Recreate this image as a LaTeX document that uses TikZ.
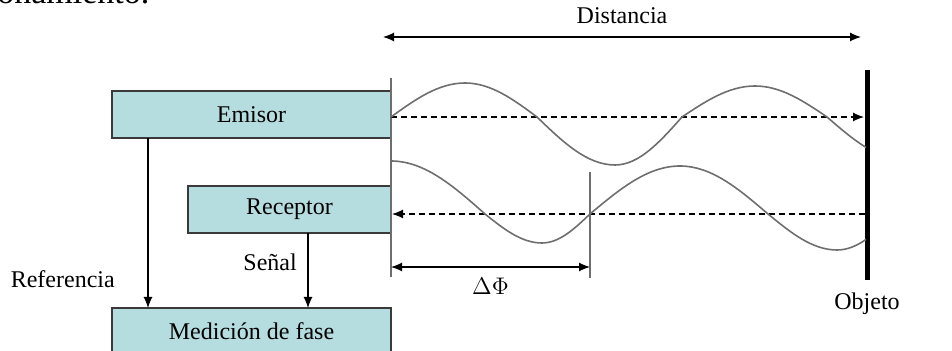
\documentclass[tikz,border=0pt]{standalone}
\usepackage{fontspec}
\setmainfont{Liberation Serif}
\usepackage{xcolor}
\definecolor{bloqueRelleno}{HTML}{B5DDE0}
\definecolor{bloqueBorde}{HTML}{3A3A3A}
\definecolor{ondaGris}{HTML}{6E6E6E}
\usetikzlibrary{arrows.meta}
\tikzset{
  bloque/.style={draw=bloqueBorde, fill=bloqueRelleno, line width=0.7pt, minimum height=23.5pt, inner sep=0pt, outer sep=0pt},
  flecha/.style={line width=0.6pt, -{Latex[length=5.5pt,width=4.5pt]}},
  flechas/.style={line width=0.6pt, {Latex[length=5.5pt,width=4.5pt]}-{Latex[length=5.5pt,width=4.5pt]}},
  onda/.style={draw=ondaGris, line width=0.8pt},
  rayo/.style={flecha, dash pattern=on 3pt off 2pt},
  texto/.style={font=\fontsize{12}{14}\selectfont}
}

\begin{document}
\begin{tikzpicture}[x=0.5pt, y=-0.5pt, texto]
  \useasboundingbox (0,0) rectangle (952,351);
  \node[anchor=base west, inner sep=0pt, font=\fontsize{17}{19}\selectfont] (parrafo) at (-3,4) {onamiento.};

  \node[bloque, minimum width=139.5pt] (emisor) at (251.5,114.5) {Emisor};
  \node[bloque, minimum width=101.5pt] (receptor) at (289.5,209.5) {Receptor};
  \node[bloque, minimum width=139.5pt] (medicion) at (251.5,331.5) {Medición de fase};

  \coordinate (colRef) at (148,0);
  \coordinate (colSen) at (308,0);
  \draw[flecha] (emisor.south -| colRef) -- (medicion.north -| colRef)
    node[pos=0.83, left=13pt] (referencia) {Referencia};
  \draw[flecha] (receptor.south -| colSen) -- (medicion.north -| colSen)
    node[pos=0.39, left=2pt] (senal) {Señal};

  \coordinate (baseArriba) at (391,78);
  \coordinate (baseAbajo) at (391,277);
  \draw[draw=ondaGris, line width=0.8pt] (baseArriba) -- (baseAbajo);

  \coordinate (objArriba) at (867,70);
  \coordinate (objAbajo) at (867,280);
  \draw[line width=2.5pt] (objArriba) -- (objAbajo);
  \node[below=3pt] (objeto) at (objAbajo) {Objeto};

  \coordinate (distIzq) at (383,37);
  \coordinate (distDer) at (861,37);
  \draw[flechas] (distIzq) -- (distDer) node[midway, above=3pt] (distancia) {Distancia};

  \coordinate (idaIzq) at (391,117);
  \coordinate (idaDer) at (864,117);
  \draw[rayo] (idaIzq) -- (idaDer);
  \coordinate (vueltaDer) at (865,214);
  \coordinate (vueltaIzq) at (392,214);
  \draw[rayo] (vueltaDer) -- (vueltaIzq);

  \coordinate (faseArriba) at (590,172);
  \coordinate (faseAbajo) at (590,278);
  \draw[draw=ondaGris, line width=0.8pt] (faseArriba) -- (faseAbajo);
  \coordinate (faseIzq) at (391,267);
  \coordinate (faseDer) at (590,267);
  \draw[flechas] (faseIzq) -- (faseDer) node[midway, below=2pt] (delta) {$\Delta\Phi$};

  \begin{scope}
    \clip (391,0) rectangle (866,351);
    \draw[onda] (391,117) sin (465,83) cos (537,117) sin (615,165) cos (682,117)
      sin (755,86) cos (827,117) sin (905,160);
    \draw[onda] (391,161) cos (485,214) sin (542,243) cos (590,214) sin (680,166)
      cos (768,214) sin (837,250) cos (895,214);
  \end{scope}
\end{tikzpicture}
\end{document}
